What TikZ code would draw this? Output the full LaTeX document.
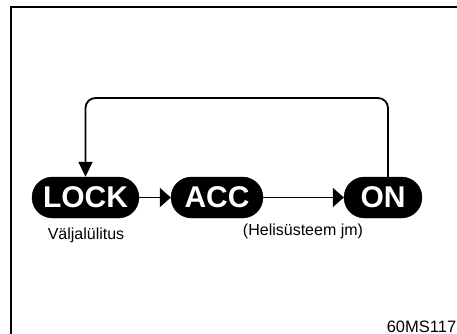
\documentclass[tikz,border=0pt]{standalone}
\usepackage{fontspec}
\usepackage{graphicx}
\setmainfont{Liberation Sans}
\usetikzlibrary{arrows.meta,shapes.misc}
\begin{document}
\begin{tikzpicture}[x=1pt,y=-1pt,
  pill/.style={rounded rectangle, fill=black, draw=black, text=white,
    minimum height=41pt, inner sep=0pt,
    font=\fontsize{30}{30}\selectfont\bfseries},
  conn/.style={line width=1.8pt, draw=black},
  lbl/.style={inner sep=0pt, font=\fontsize{16}{16}\selectfont, anchor=base}]
\useasboundingbox (0,0) rectangle (457,334);
% frame
\draw[line width=1.5pt] (11,334) -- (11,7) -- (457,7);
% states
\node[pill, minimum width=107pt] (lock) at (85.5,197.5) {LOCK};
\node[pill, minimum width=92pt] (acc) at (217,197.5) {ACC};
\node[pill, minimum width=78pt] (on) at (383,197.5) {ON};
% connectors
\draw[conn, -{Triangle[length=11pt,width=19pt]}] (lock.east) -- (acc.west);
\draw[conn, -{Triangle[length=11pt,width=19pt]}] (acc.east) -- (on.west);
\coordinate (topr) at (388,98);
\draw[conn, rounded corners=10pt, -{Triangle[length=15pt,width=14pt]}]
  ([xshift=5pt]on.north) -- (topr) -| (lock.north);
% labels
\node[lbl] (l1) at (86,239.5) {Väljalülitus};
\node[lbl] (l2) at (303,235.5) {(Helisüsteem jm)};
\node[lbl, font=\fontsize{16.5}{16.5}\selectfont] (code) at (421.5,332) {60MS117};
\end{tikzpicture}
\end{document}
